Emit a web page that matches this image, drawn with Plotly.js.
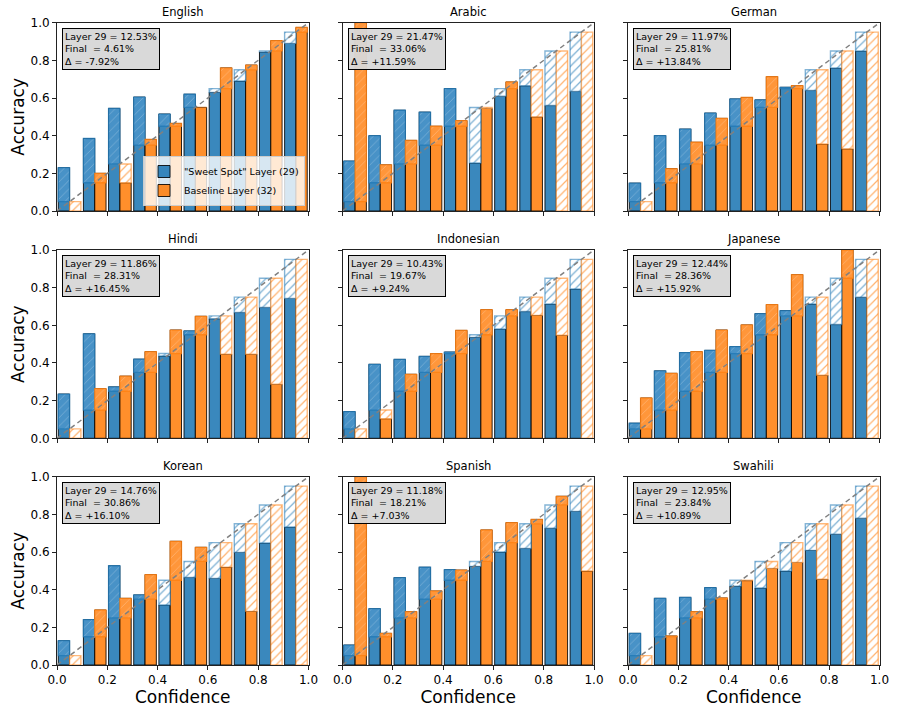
<!DOCTYPE html>
<html><head><meta charset="utf-8">
<script src="https://cdn.plot.ly/plotly-3.0.1.min.js"></script>
<style>body{margin:0;background:#fff}#chart{width:897px;height:714px}</style>
</head><body><div id="chart"></div>
<script>
// ---- data ----
const binCenters = [0.05, 0.15, 0.25, 0.35, 0.45, 0.55, 0.65, 0.75, 0.85, 0.95];
const languages = ['English', 'Arabic', 'German', 'Hindi', 'Indonesian', 'Japanese', 'Korean', 'Spanish', 'Swahili'];

const englishL29 = [0.23, 0.385, 0.545, 0.605, 0.515, 0.62, 0.63, 0.69, 0.845, 0.89];
const englishBase = [0.0, 0.20, 0.15, 0.38, 0.465, 0.55, 0.76, 0.775, 0.905, 0.975];
const arabicL29 = [0.265, 0.40, 0.535, 0.525, 0.65, 0.255, 0.61, 0.665, 0.56, 0.635];
const arabicBase = [1.0, 0.245, 0.375, 0.45, 0.48, 0.545, 0.685, 0.50, 0.0, 0.0];
const germanL29 = [0.148, 0.40, 0.435, 0.52, 0.595, 0.59, 0.657, 0.64, 0.76, 0.85];
const germanBase = [0.0, 0.225, 0.365, 0.492, 0.603, 0.713, 0.666, 0.356, 0.33, 0.0];
const hindiL29 = [0.235, 0.555, 0.273, 0.42, 0.437, 0.57, 0.635, 0.668, 0.695, 0.743];
const hindiBase = [0.0, 0.264, 0.33, 0.46, 0.575, 0.648, 0.446, 0.446, 0.287, 0.0];
const indonesianL29 = [0.142, 0.393, 0.419, 0.435, 0.458, 0.536, 0.581, 0.673, 0.713, 0.793];
const indonesianBase = [0.0, 0.104, 0.34, 0.45, 0.573, 0.683, 0.683, 0.653, 0.547, 0.0];
const japaneseL29 = [0.08, 0.358, 0.455, 0.467, 0.487, 0.662, 0.678, 0.713, 0.604, 0.749];
const japaneseBase = [0.214, 0.345, 0.46, 0.575, 0.602, 0.71, 0.869, 0.335, 1.0, 0.0];
const koreanL29 = [0.129, 0.241, 0.527, 0.372, 0.319, 0.465, 0.46, 0.598, 0.648, 0.733];
const koreanBase = [0.0, 0.292, 0.354, 0.48, 0.657, 0.625, 0.52, 0.285, 0.0, 0.0];
const spanishL29 = [0.106, 0.299, 0.464, 0.519, 0.506, 0.524, 0.60, 0.619, 0.726, 0.816];
const spanishBase = [1.0, 0.168, 0.283, 0.393, 0.504, 0.717, 0.756, 0.773, 0.896, 0.499];
const swahiliL29 = [0.168, 0.354, 0.359, 0.411, 0.419, 0.409, 0.499, 0.609, 0.694, 0.78];
const swahiliBase = [0.0, 0.154, 0.283, 0.356, 0.448, 0.513, 0.545, 0.455, 0.0, 0.0];

const layer29ECE = [12.53, 21.47, 11.97, 11.86, 10.43, 12.44, 14.76, 11.18, 12.95];
const finalECE = [4.61, 33.06, 25.81, 28.31, 19.67, 28.36, 30.86, 18.21, 23.84];
const deltaECE = [-7.92, 11.59, 13.84, 16.45, 9.24, 15.92, 16.10, 7.03, 10.89];

const seriesNames = ['"Sweet Spot" Layer (29)', 'Baseline Layer (32)'];
const xTicks = [0, 0.2, 0.4, 0.6, 0.8, 1.0];

// ---- build ----
const l29List = [englishL29, arabicL29, germanL29, hindiL29, indonesianL29, japaneseL29, koreanL29, spanishL29, swahiliL29];
const baseList = [englishBase, arabicBase, germanBase, hindiBase, indonesianBase, japaneseBase, koreanBase, spanishBase, swahiliBase];

const W = 897, H = 714;
const colLeft = [57, 342.5, 628], colW = 251.5;
const rowTop = [22.7, 250, 476.7], rowH = 188.3;
const FONT = 'DejaVu Sans, sans-serif';

const styles = [
  { solid: 'rgba(31,119,180,0.88)', rgb: '31,119,180', overFill: 'rgb(72,146,199)', offset: -0.045 },
  { solid: 'rgba(255,127,14,0.88)', rgb: '255,127,14', overFill: 'rgb(255,150,58)', offset: 0.0 }
];

const traces = [];
const layout = {
  width: W, height: H,
  margin: { l: 0, r: 0, t: 0, b: 0 },
  paper_bgcolor: '#fff', plot_bgcolor: '#fff',
  barmode: 'overlay',
  font: { family: FONT, color: '#000' },
  showlegend: true,
  legend: {
    x: 305 / W, xanchor: 'right', y: 1 - 206 / H, yanchor: 'bottom',
    bgcolor: 'rgba(255,255,255,0.8)', bordercolor: '#cccccc', borderwidth: 1,
    font: { family: FONT, size: 9.5, color: '#000' },
    tracegroupgap: 0, itemwidth: 30
  },
  annotations: []
};

for (let k = 0; k < 9; k++) {
  const row = Math.floor(k / 3), col = k % 3;
  const sfx = k === 0 ? '' : String(k + 1);
  const xa = 'x' + sfx, ya = 'y' + sfx;
  const accs = [l29List[k], baseList[k]];

  accs.forEach((acc, s) => {
    const st = styles[s];
    traces.push({
      type: 'bar', x: binCenters, y: acc, base: 0,
      width: 0.045, offset: st.offset,
      xaxis: xa, yaxis: ya,
      name: seriesNames[s], showlegend: k === 0,
      marker: { color: st.solid, line: { color: 'rgba(0,0,0,0.85)', width: 1 } },
      hoverinfo: 'skip'
    });
  });
  accs.forEach((acc, s) => {
    const st = styles[s];
    const gap = acc.map((a, i) => Math.abs(a - binCenters[i]));
    const low = acc.map((a, i) => Math.min(a, binCenters[i]));
    const isOver = acc.map((a, i) => a > binCenters[i]);
    // accuracy above confidence: hatched region on top of the solid bar
    traces.push({
      type: 'bar', x: binCenters,
      y: gap.map((g, i) => isOver[i] ? g : null),
      base: low,
      width: 0.045, offset: st.offset,
      xaxis: xa, yaxis: ya, showlegend: false,
      marker: {
        color: st.overFill,
        pattern: { shape: '/', size: 6, solidity: 0.12, fillmode: 'replace',
          bgcolor: st.overFill, fgcolor: '#ffffff', fgopacity: 0.3 },
        line: { color: 'rgba(' + st.rgb + ',0.75)', width: 1.3 }
      },
      hoverinfo: 'skip'
    });
    // accuracy below confidence: hatched gap up to the bin confidence
    traces.push({
      type: 'bar', x: binCenters,
      y: gap.map((g, i) => isOver[i] ? null : g),
      base: low,
      width: 0.045, offset: st.offset,
      xaxis: xa, yaxis: ya, showlegend: false,
      marker: {
        color: 'rgba(' + st.rgb + ',0.7)',
        pattern: { shape: '/', size: 6, solidity: 0.2, fillmode: 'replace',
          bgcolor: '#ffffff', fgcolor: 'rgb(' + st.rgb + ')', fgopacity: 0.6 },
        line: { color: 'rgba(' + st.rgb + ',0.55)', width: 1.4 }
      },
      hoverinfo: 'skip'
    });
  });
  traces.push({
    type: 'scatter', mode: 'lines', x: [0, 1], y: [0, 1],
    xaxis: xa, yaxis: ya, showlegend: false,
    line: { color: 'rgba(128,128,128,1)', width: 1.5, dash: '5px,3.5px' },
    hoverinfo: 'skip'
  });

  const x0 = colLeft[col] / W, x1 = (colLeft[col] + colW) / W;
  const y1 = 1 - rowTop[row] / H, y0 = 1 - (rowTop[row] + rowH) / H;
  const axCommon = {
    range: [0, 1], showgrid: false, zeroline: false,
    showline: true, mirror: true, linecolor: '#222', linewidth: 1,
    ticks: 'outside', ticklen: 4, tickwidth: 1, tickcolor: '#222',
    tickvals: xTicks, tickformat: '.1f',
    tickfont: { family: FONT, size: 12, color: '#000' }, fixedrange: true
  };
  layout['xaxis' + sfx] = Object.assign({}, axCommon, {
    domain: [x0, x1], anchor: ya,
    showticklabels: row === 2,
    title: row === 2 ? { text: 'Confidence', font: { family: FONT, size: 17 }, standoff: 3 } : undefined
  });
  layout['yaxis' + sfx] = Object.assign({}, axCommon, {
    domain: [y0, y1], anchor: xa,
    showticklabels: col === 0,
    title: col === 0 ? { text: 'Accuracy', font: { family: FONT, size: 17 }, standoff: 1 } : undefined
  });

  // panel title
  layout.annotations.push({
    text: languages[k], xref: 'paper', yref: 'paper',
    x: (x0 + x1) / 2, y: y1 + 11 / H, xanchor: 'center', yanchor: 'middle',
    showarrow: false, font: { family: FONT, size: 11.5, color: '#000' }
  });
  // ECE box
  const d = deltaECE[k];
  const boxText = 'Layer 29 = ' + layer29ECE[k].toFixed(2) + '%<br>' +
    'Final\u00a0 = ' + finalECE[k].toFixed(2) + '%<br>' +
    '\u0394 = ' + (d >= 0 ? '+' : '') + d.toFixed(2) + '%';
  layout.annotations.push({
    text: boxText, xref: xa + ' domain', yref: ya + ' domain',
    x: 5 / colW, y: 1 - 5 / rowH, xanchor: 'left', yanchor: 'top',
    align: 'left', showarrow: false,
    bgcolor: 'rgba(215,215,215,0.95)', bordercolor: '#000', borderwidth: 1, borderpad: 2,
    font: { family: FONT, size: 9.5, color: '#000' }
  });
}

Plotly.newPlot('chart', traces, layout, { displayModeBar: false, staticPlot: true });
</script>
</body></html>
